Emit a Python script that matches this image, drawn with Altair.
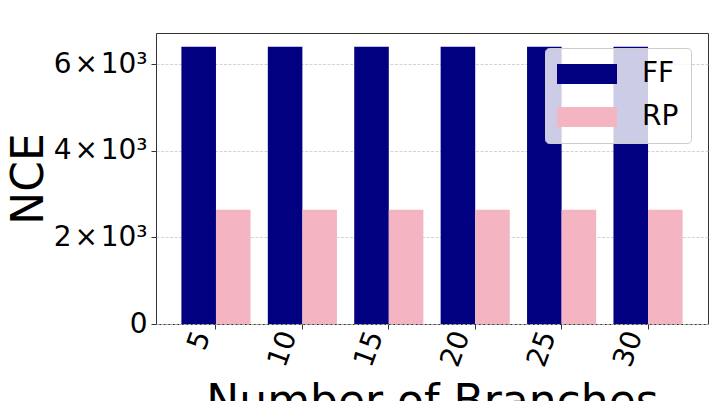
import altair as alt
import pandas as pd

branches = ["5", "10", "15", "20", "25", "30"]
ff_values = [6400, 6400, 6400, 6400, 6400, 6400]
rp_values = [2640, 2640, 2640, 2640, 2640, 2640]
series = ["FF", "RP"]
colors = ["#000080", "#F4B4C2"]
y_ticks = [0, 2000, 4000, 6000]

rows = []
for b, f, r in zip(branches, ff_values, rp_values):
    rows.append({"branch": b, "method": "FF", "nce": f})
    rows.append({"branch": b, "method": "RP", "nce": r})
df = pd.DataFrame(rows)

FONT = "DejaVu Sans"

chart = alt.Chart(df).mark_bar().encode(
    x=alt.X(
        "branch:N",
        sort=branches,
        scale=alt.Scale(paddingInner=0.2, paddingOuter=0.294),
        axis=alt.Axis(
            title="Number of Branches",
            labelAngle=290,
            labelFontSize=28,
            labelFont=FONT,
            labelColor="black",
            labelPadding=3,
            labelOffset=-13,
            tickSize=5,
            tickColor="#333333",
            domain=False,
            grid=False,
            titleFontSize=44,
            titleFont=FONT,
            titleFontWeight="normal",
            titleColor="black",
            titlePadding=10,
        ),
    ),
    xOffset=alt.XOffset("method:N", sort=series, scale=alt.Scale(paddingInner=0, paddingOuter=0)),
    y=alt.Y(
        "nce:Q",
        scale=alt.Scale(domain=[0, 6720], nice=False, zero=True),
        axis=alt.Axis(
            title="NCE",
            values=y_ticks,
            labelExpr="datum.value == 0 ? '0' : (datum.value / 1000) + '\u200a×\u200a10³'",
            labelFontSize=28,
            labelFont=FONT,
            labelColor="black",
            labelPadding=4,
            tickSize=5,
            tickColor="#333333",
            domain=False,
            grid=True,
            gridColor="#c8c8c8",
            gridDash=[3, 1.5],
            gridWidth=0.8,
            titleFontSize=44,
            titleFont=FONT,
            titleFontWeight="normal",
            titleColor="black",
            titleX=-114,
            titleY=145.5,
            titleAngle=270,
            titleAlign="center",
            titleBaseline="alphabetic",
        ),
    ),
    color=alt.Color(
        "method:N",
        sort=series,
        scale=alt.Scale(domain=series, range=colors),
        legend=alt.Legend(
            title=None,
            orient="none",
            legendX=389,
            legendY=15,
            padding=12,
            fillColor="rgba(255,255,255,0.8)",
            strokeColor="#cccccc",
            cornerRadius=4,
            symbolType="M-1.4,-1H4.6V1H-1.4Z",
            symbolSize=400,
            symbolStrokeWidth=0,
            symbolOpacity=1,
            labelFontSize=28,
            labelFont=FONT,
            labelColor="black",
            labelOffset=57,
            rowPadding=15,
        ),
    ),
).properties(
    width=552,
    height=291,
    autosize=alt.AutoSizeParams(type="none"),
    padding={"left": 148, "top": 25, "right": 2, "bottom": 77},
).configure(
    background="white",
).configure_view(
    stroke="#333333",
    strokeWidth=1,
)

chart.save("out.html", embed_options={"renderer": "svg", "actions": False})
